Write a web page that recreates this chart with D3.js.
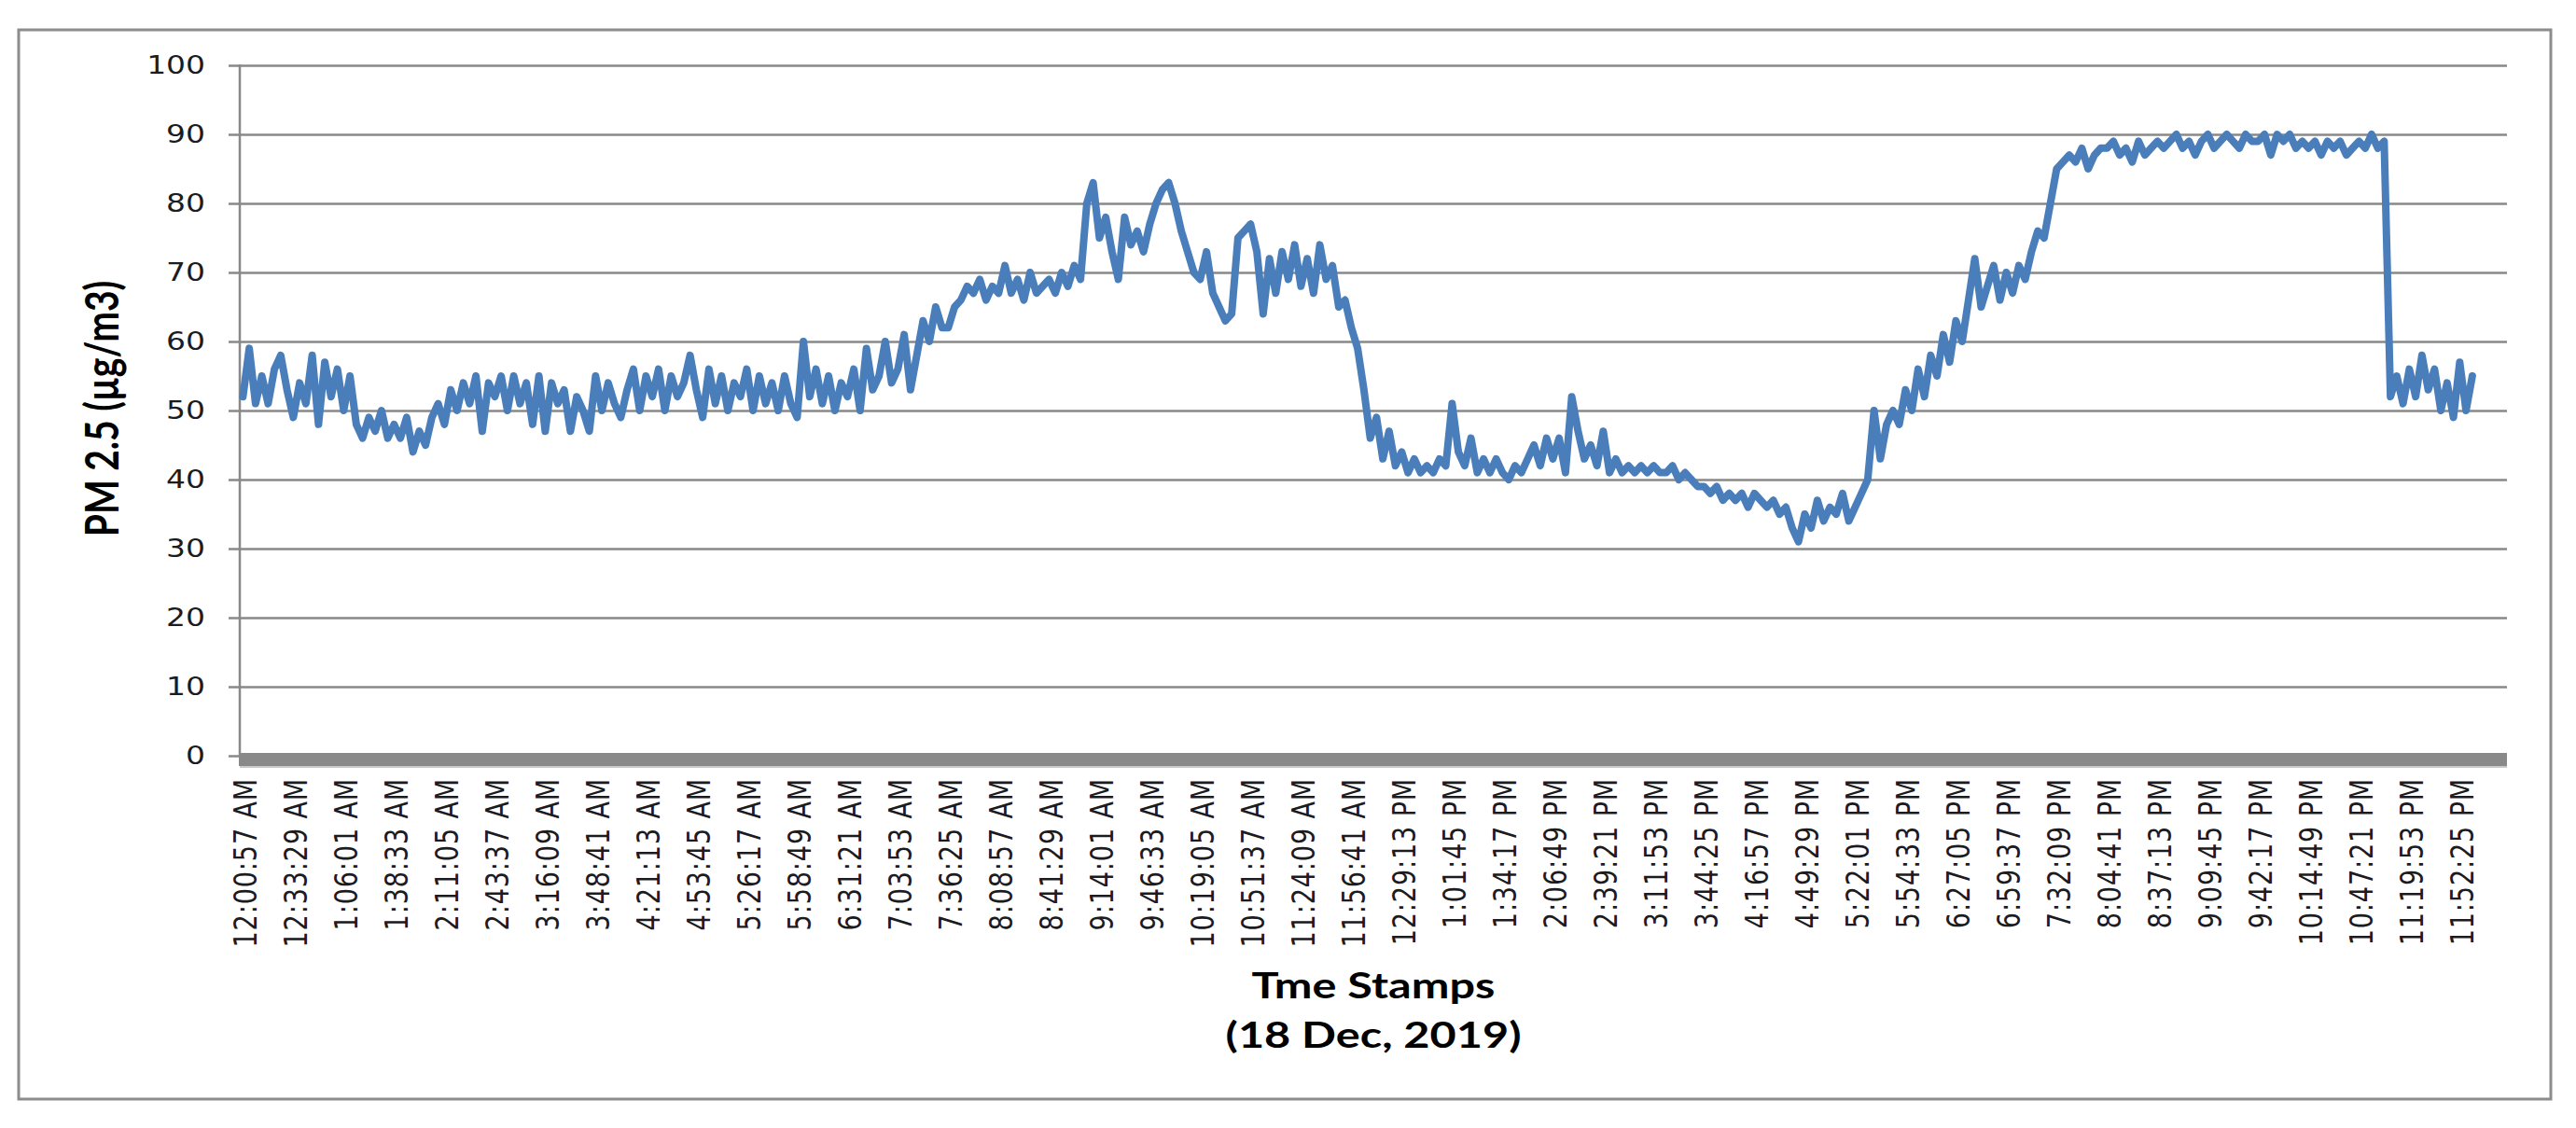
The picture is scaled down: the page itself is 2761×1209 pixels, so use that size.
<!DOCTYPE html>
<html><head><meta charset="utf-8">
<script src="https://cdn.jsdelivr.net/npm/d3@7"></script>
<style>body{margin:0;background:#fff}svg{display:block}</style>
</head><body>
<svg id="c" width="2761" height="1209"></svg>
<script>
const tickLabels = ["12:00:57 AM","12:33:29 AM","1:06:01 AM","1:38:33 AM","2:11:05 AM","2:43:37 AM","3:16:09 AM","3:48:41 AM","4:21:13 AM","4:53:45 AM","5:26:17 AM","5:58:49 AM","6:31:21 AM","7:03:53 AM","7:36:25 AM","8:08:57 AM","8:41:29 AM","9:14:01 AM","9:46:33 AM","10:19:05 AM","10:51:37 AM","11:24:09 AM","11:56:41 AM","12:29:13 PM","1:01:45 PM","1:34:17 PM","2:06:49 PM","2:39:21 PM","3:11:53 PM","3:44:25 PM","4:16:57 PM","4:49:29 PM","5:22:01 PM","5:54:33 PM","6:27:05 PM","6:59:37 PM","7:32:09 PM","8:04:41 PM","8:37:13 PM","9:09:45 PM","9:42:17 PM","10:14:49 PM","10:47:21 PM","11:19:53 PM","11:52:25 PM"];
const yTicks = [0,10,20,30,40,50,60,70,80,90,100];
const pm25 = [
52,59,51,55,51,56,58,53, 49,54,51,58,48,57,52,56, 50,55,48,46,49,47,50,46, 48,46,49,44,47,45,49,51,
48,53,50,54,51,55,47,54, 52,55,50,55,51,54,48,55, 47,54,51,53,47,52,50,47, 55,50,54,51,49,53,56,50,
55,52,56,50,55,52,54,58, 53,49,56,51,55,50,54,52, 56,50,55,51,54,50,55,51, 49,60,52,56,51,55,50,54,
52,56,50,59,53,55,60,54, 56,61,53,58,63,60,65,62, 62,65,66,68,67,69,66,68, 67,71,67,69,66,70,67,68,
69,67,70,68,71,69,80,83, 75,78,73,69,78,74,76,73, 77,80,82,83,80,76,73,70, 69,73,67,65,63,64,75,76,
77,73,64,72,67,73,69,74, 68,72,67,74,69,71,65,66, 62,59,53,46,49,43,47,42, 44,41,43,41,42,41,43,42,
51,44,42,46,41,43,41,43, 41,40,42,41,43,45,42,46, 43,46,41,52,47,43,45,42, 47,41,43,41,42,41,42,41,
42,41,41,42,40,41,40,39, 39,38,39,37,38,37,38,36, 38,37,36,37,35,36,33,31, 35,33,37,34,36,35,38,34,
36,38,40,50,43,48,50,48, 53,50,56,52,58,55,61,57, 63,60,66,72,65,68,71,66, 70,67,71,69,73,76,75,80,
85,86,87,86,88,85,87,88, 88,89,87,88,86,89,87,88, 89,88,89,90,88,89,87,89, 90,88,89,90,89,88,90,89,
89,90,87,90,89,90,88,89, 88,89,87,89,88,89,87,88, 89,88,90,88,89,52,55,51, 56,52,58,53,56,50,54,49,
57,50,55
];
const samplesPerLabel = 8;
const categoryCount = 360;
const yTitle = "PM 2.5 (µg/m3)";
const xTitle = ["Tme Stamps", "(18 Dec, 2019)"];

const m = {left:257, right:2687, top:70, bottom:810};
const gridColor = "#898989";
const textColor = "#1b1b22";
const stretch = 1.28;
const svg = d3.select("#c");

svg.append("rect").attr("x",20).attr("y",32).attr("width",2714).attr("height",1146)
  .attr("fill","#fff").attr("stroke","#8c8c8c").attr("stroke-width",3);

const x = d3.scaleLinear().domain([-0.5, categoryCount - 0.5]).range([m.left, m.right]);
const y = d3.scaleLinear().domain([0, 100]).range([m.bottom, m.top]);

// y axis + gridlines
const gy = svg.append("g").attr("transform", `translate(${m.left},0)`)
  .call(d3.axisLeft(y).tickValues(yTicks).tickSize(12));
gy.select(".domain").remove();
gy.selectAll(".tick line").attr("x1", m.right - m.left).attr("stroke", gridColor).attr("stroke-width", 2.5);
gy.selectAll(".tick text").attr("x", 0).attr("transform",`translate(-37,0) scale(1.22,1)`)
  .attr("font-family","'DejaVu Sans', sans-serif").attr("font-size",27).attr("fill",textColor);
svg.append("line").attr("x1",m.left).attr("x2",m.left).attr("y1",m.top-1).attr("y2",m.bottom)
  .attr("stroke",gridColor).attr("stroke-width",2.5);

// bottom band (category axis)
svg.append("rect").attr("x",m.left-1).attr("y",m.bottom-3).attr("width",m.right-m.left+1).attr("height",14).attr("fill","#898989");
svg.append("line").attr("x1",m.left).attr("x2",m.right).attr("y1",m.bottom+12).attr("y2",m.bottom+12).attr("stroke","#c9c9c9").attr("stroke-width",2);

// x axis labels
const gx = svg.append("g").attr("transform", `translate(2,834)`)
  .call(d3.axisBottom(x).tickValues(tickLabels.map((_, i) => i * samplesPerLabel))
    .tickFormat((d, i) => tickLabels[i]).tickSize(0));
gx.select(".domain").remove();
gx.selectAll(".tick text").attr("transform",`scale(${stretch},1) rotate(-90)`).attr("x",0).attr("y",0).attr("dy","0.36em")
  .attr("text-anchor","end").attr("font-family","'DejaVu Sans', sans-serif").attr("font-size",27)
  .attr("letter-spacing",0.9).attr("fill",textColor);

// line
const line = d3.line().x((d, i) => x(i)).y(d => y(d));
svg.append("path").datum(pm25).attr("d", line).attr("fill","none").attr("stroke","#4a7ebb")
  .attr("stroke-width",8).attr("stroke-linejoin","round").attr("stroke-linecap","round");

// titles
const titleFont = "Lato, 'Open Sans', sans-serif";
svg.append("text").attr("transform",`translate(127,438) scale(${stretch},1) rotate(-90)`).attr("text-anchor","middle")
  .attr("font-family",titleFont).attr("font-weight","bold").attr("font-size",39).attr("fill","#000").text(yTitle);
const cx = (m.left + m.right) / 2;
svg.append("text").attr("transform",`translate(${cx},1070) scale(${stretch},1)`).attr("text-anchor","middle")
  .attr("font-family",titleFont).attr("font-weight","bold").attr("font-size",38).text(xTitle[0]);
svg.append("text").attr("transform",`translate(${cx},1123) scale(${stretch},1)`).attr("text-anchor","middle")
  .attr("font-family",titleFont).attr("font-weight","bold").attr("font-size",38).text(xTitle[1]);
</script>
</body></html>
